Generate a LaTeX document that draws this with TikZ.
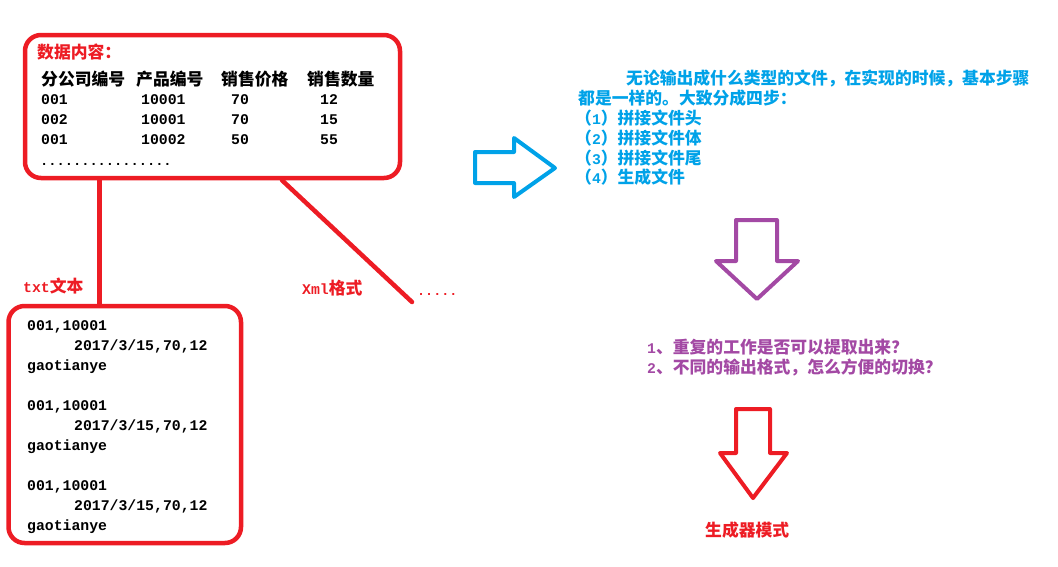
\documentclass[tikz,border=0pt]{standalone}
\usepackage{fontspec}
\newfontfamily\cjk{Noto Sans CJK SC}
\newfontfamily\mono{Liberation Mono}
\usepackage{tikz}
\usetikzlibrary{positioning}
\definecolor{pred}{RGB}{237,28,36}
\definecolor{pblue}{RGB}{0,162,232}
\definecolor{ppurple}{RGB}{163,73,164}
\newcommand\zhtext{\cjk\bfseries\fontsize{16.8}{20}\selectfont}
\newcommand\entext{\mono\bfseries\fontsize{14.8}{20}\selectfont}

\begin{document}
\begin{tikzpicture}[x=1pt,y=-1pt,
  box/.style={draw=pred,line width=4.5pt,rounded corners=16pt,inner sep=0pt},
  wire/.style={draw=pred,line width=4.5pt},
  hanzi/.style={font=\zhtext,inner sep=0pt,anchor=base west},
  ascii/.style={font=\entext,inner sep=0pt,anchor=base west},
  blockarrow/.style={line width=4pt,line join=round}]
\useasboundingbox (0,0) rectangle (1058,566);

% data box
\node[box,minimum width=375pt,minimum height=143pt] (data) at (212.5,106.5) {};
\node[hanzi,text=pred] (title) at (37,58) {数据内容：};
\node[hanzi] (h1) at (41,85) {分公司编号};
\node[hanzi] (h2) at (136,85) {产品编号};
\node[hanzi] (h3) at (221,85) {销售价格};
\node[hanzi] (h4) at (307,85) {销售数量};
\foreach \y/\a/\b/\c/\d in {104/001/10001/70/12,124/002/10001/70/15,144/001/10002/50/55}{
  \node[ascii] (a\y) at (41,\y) {\a};
  \node[ascii] (b\y) at (141,\y) {\b};
  \node[ascii] (c\y) at (231,\y) {\c};
  \node[ascii] (d\y) at (320,\y) {\d};
}
\node[ascii,font=\mono\bfseries\fontsize{13.7}{20}\selectfont] (more) at (40,165) {................};

% txt file box
\node[box,minimum width=232.5pt,minimum height=237pt] (txtfile) at (124.75,424.5) {};
\foreach \y in {330,410,490}{
  \node[ascii] (id\y) at (27,\y) {001,10001};
  \node[ascii] (row\y) at (74,\y+20) {2017/3/15,70,12};
  \node[ascii] (name\y) at (27,\y+40) {gaotianye};
}

% branches
\coordinate (split) at (99.5,0);
\coordinate (xmlstart) at (282,0);
\coordinate (xmlend) at (412,302);
\draw[wire] (data.south -| split) -- (txtfile.north -| split);
\draw[wire,line cap=round] (data.south -| xmlstart) -- (xmlend);
\node[ascii,text=pred] (txtlabel) at (23,292) {txt{\zhtext 文本}};
\node[ascii,text=pred] (xmllabel) at (302,294) {Xml{\zhtext 格式}};
\node[ascii,text=pred,font=\mono\bfseries\fontsize{13.4}{20}\selectfont] (etc) at (417,295) {.....};

% steps
\draw[blockarrow,draw=pblue] (475,152) -- (514,152) -- (514,138) -- (555,168) -- (514,197) -- (514,183) -- (475,183) -- cycle;
\node[hanzi,text=pblue] (b1) at (626,84) {无论输出成什么类型的文件，在实现的时候，基本步骤};
\node[hanzi,text=pblue] (b2) at (578,104) {都是一样的。大致分成四步：};
\node[hanzi,text=pblue] (b3) at (575,124) {（{\entext 1}）拼接文件头};
\node[hanzi,text=pblue] (b4) at (575,144) {（{\entext 2}）拼接文件体};
\node[hanzi,text=pblue] (b5) at (575,164) {（{\entext 3}）拼接文件尾};
\node[hanzi,text=pblue] (b6) at (575,183) {（{\entext 4}）生成文件};

% questions
\draw[blockarrow,draw=ppurple] (736,220) -- (777,220) -- (777,261) -- (798,261) -- (757,299) -- (716,261) -- (736,261) -- cycle;
\node[hanzi,text=ppurple] (q1) at (647,353) {{\entext 1}、重复的工作是否可以提取出来？};
\node[hanzi,text=ppurple] (q2) at (647,373) {{\entext 2}、不同的输出格式，怎么方便的切换？};

% answer
\draw[blockarrow,draw=pred] (736,409) -- (770,409) -- (770,453) -- (787,453) -- (753,498) -- (720,453) -- (736,453) -- cycle;
\node[hanzi,text=pred] (answer) at (705,536) {生成器模式};
\end{tikzpicture}
\end{document}
